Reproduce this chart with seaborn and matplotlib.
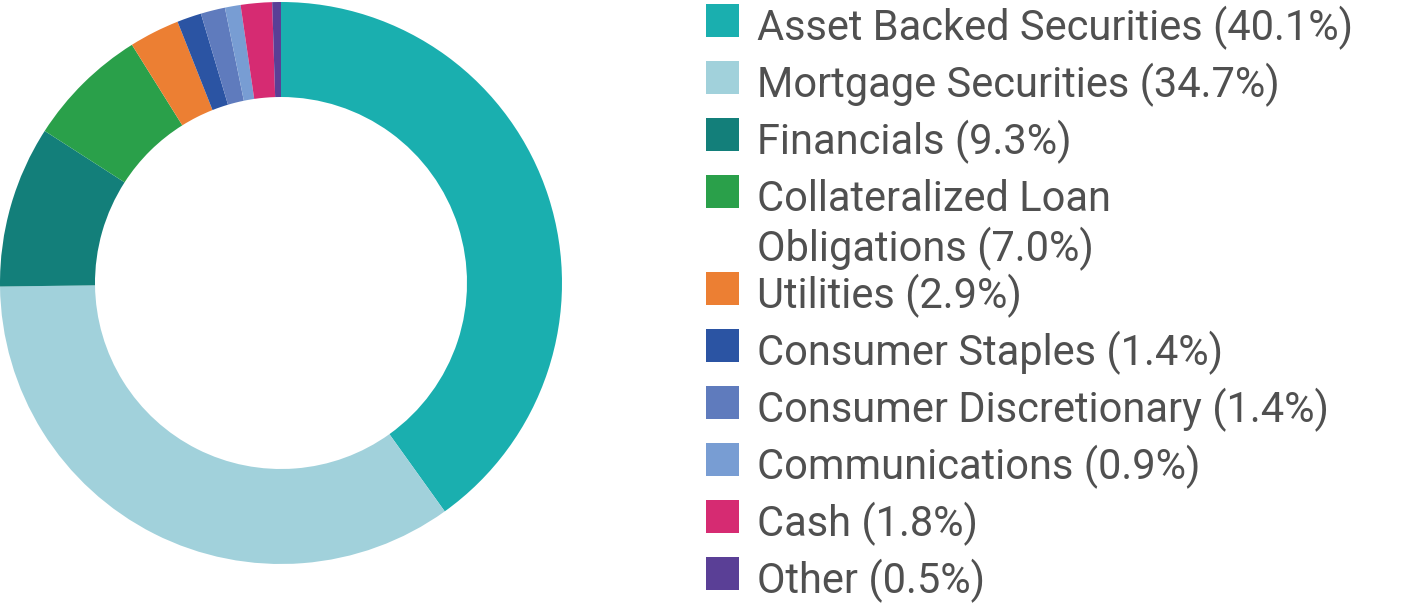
import matplotlib
matplotlib.use("Agg")
import matplotlib.pyplot as plt
from matplotlib.patches import Rectangle
import seaborn as sns

categories = [
    "Asset Backed Securities", "Mortgage Securities", "Financials",
    "Collateralized Loan\nObligations", "Utilities", "Consumer Staples",
    "Consumer Discretionary", "Communications", "Cash", "Other",
]
values = [40.1, 34.7, 9.3, 7.0, 2.9, 1.4, 1.4, 0.9, 1.8, 0.5]
value_labels = ["40.1%", "34.7%", "9.3%", "7.0%", "2.9%", "1.4%", "1.4%", "0.9%", "1.8%", "0.5%"]
colors = ["#1AAFAF", "#A1D1DB", "#137F7A", "#2AA04A", "#EC7F33",
          "#2B54A3", "#5F7BBD", "#789DD3", "#D62B72", "#5A3F96"]

sns.set_theme(style="white")
plt.rcParams["font.family"] = ["Roboto", "DejaVu Sans"]

W, H = 1427, 610
fig = plt.figure(figsize=(W / 100, H / 100), dpi=100)
ax = fig.add_axes([0, 0, 1, 1])
ax.set_xlim(0, W)
ax.set_ylim(0, H)
ax.set_aspect("equal")
ax.axis("off")

ax.pie(values, colors=colors, startangle=90, counterclock=False,
       radius=281, center=(281, H - 283),
       wedgeprops=dict(width=95, edgecolor="none", linewidth=0))
ax.set_xlim(0, W)
ax.set_ylim(0, H)

text_color = "#505050"
sq_top = 4
for i, (cat, val) in enumerate(zip(categories, value_labels)):
    ax.add_patch(Rectangle((706, H - (sq_top + 33)), 33, 33,
                           facecolor=colors[i], edgecolor="none"))
    lines = cat.split("\n")
    lines[-1] = f"{lines[-1]} ({val})"
    base = sq_top + 36
    for k, line in enumerate(lines):
        ax.text(757, H - (base + 50 * k), line, fontsize=30,
                color=text_color, ha="left", va="baseline")
    sq_top += 57 + 40 * (len(lines) - 1)

fig.savefig("out.png", dpi=100)
